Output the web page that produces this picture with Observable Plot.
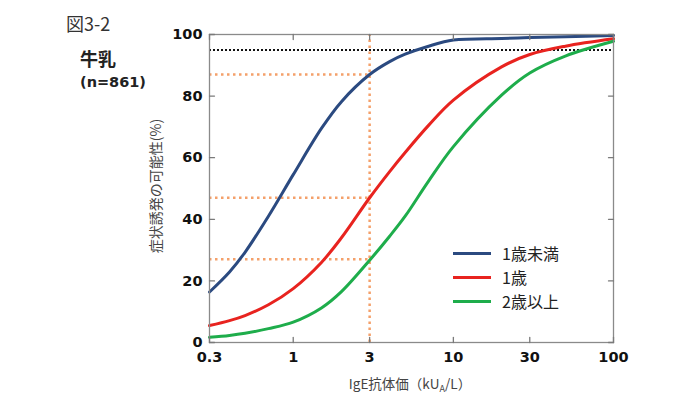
<!DOCTYPE html>
<html><head><meta charset="utf-8">
<script src="https://cdn.jsdelivr.net/npm/d3@7"></script>
<script src="https://cdn.jsdelivr.net/npm/@observablehq/plot@0.6"></script>
<style>
body{margin:0;background:#fff;}
#wrap{position:relative;width:700px;height:400px;font-family:"Noto Sans CJK JP",sans-serif;overflow:hidden;}
#wrap svg{position:absolute;left:0;top:0;}
.abs{position:absolute;white-space:nowrap;line-height:1;}
.leg{position:absolute;left:453px;display:flex;align-items:center;font-size:16px;color:#222;}
.leg span.ln{display:inline-block;width:38px;height:3px;margin-right:11px;}
</style></head><body><div id="wrap"></div>
<script>
const xTicks = [0.3, 1, 3, 10, 30, 100];
const yTicks = [0, 20, 40, 60, 80, 100];
const seriesNames = ["1歳未満", "1歳", "2歳以上"];
const seriesColors = ["#2b4a80", "#e8231f", "#1ead4b"];
const xs = [0.3, 0.4, 0.5, 0.7, 1, 1.5, 2, 3, 4, 5, 7, 10, 20, 30, 50, 100];
const under1 = [16.4, 22.9, 29.3, 41, 54.5, 69.5, 78.2, 87, 91.2, 93.6, 96.2, 98.2, 98.7, 99, 99.3, 99.7];
const age1 = [5.5, 7.1, 8.75, 12.25, 17.5, 26, 34, 47, 55.5, 61.7, 70.5, 78.7, 89.5, 93.5, 96.2, 98.6];
const age2plus = [1.7, 2.3, 3.0, 4.5, 6.6, 11.2, 16.5, 26.7, 34.5, 41, 52.4, 63.6, 80.3, 87.5, 93, 97.8];
const refX = [3];
const refY = [87, 47, 27];
const threshold95 = [95];

const seriesValues = [under1, age1, age2plus];
const data = [];
seriesNames.forEach((s, i) => xs.forEach((x, j) => data.push({x, y: seriesValues[i][j], s})));
const refRows = refY.map(y => ({y, x1: xTicks[0], x2: refX[0]}));

const tickShape = {draw(context, l) { context.moveTo(0, 0); context.lineTo(0, -l); }};
const tickStyle = {length: 5, anchor: "start", shape: tickShape, stroke: "#7a7a7a", strokeWidth: 1.3};

const chart = Plot.plot({
  width: 700, height: 400,
  marginLeft: 209, marginRight: 87, marginTop: 34, marginBottom: 58,
  style: {background: "transparent", fontFamily: "'DejaVu Sans', sans-serif", color: "#111"},
  x: {type: "log", domain: [0.3, 100], label: null},
  y: {domain: [0, 100], label: null},
  color: {domain: seriesNames, range: seriesColors},
  marks: [
    Plot.ruleY(refRows, {y: "y", x1: "x1", x2: "x2", stroke: "#f4a06a", strokeWidth: 2.5, strokeDasharray: "2.5,3.5"}),
    Plot.ruleX(refX, {y1: 0, y2: 100, stroke: "#f4a06a", strokeWidth: 2.5, strokeDasharray: "2.5,3.5"}),
    Plot.ruleY(threshold95, {stroke: "#111", strokeWidth: 2, strokeDasharray: "2,2"}),
    Plot.line(data, {x: "x", y: "y", z: "s", stroke: "s", strokeWidth: 3, curve: "catmull-rom"}),
    Plot.frame({stroke: "#8a8a8a", strokeWidth: 1.3}),
    Plot.vector(xTicks, {x: d => d, frameAnchor: "bottom", rotate: 0, ...tickStyle}),
    Plot.vector(xTicks, {x: d => d, frameAnchor: "top", rotate: 180, ...tickStyle}),
    Plot.vector(yTicks, {y: d => d, frameAnchor: "left", rotate: 90, ...tickStyle}),
    Plot.vector(yTicks, {y: d => d, frameAnchor: "right", rotate: -90, ...tickStyle}),
    Plot.axisX({anchor: "bottom", ticks: xTicks, tickFormat: d => String(d), tickSize: 0, tickPadding: 9, fontSize: 14.5, fontWeight: "bold", label: null}),
    Plot.axisY({anchor: "left", ticks: yTicks, tickSize: 0, tickPadding: 7, fontSize: 14.5, fontWeight: "bold", label: null})
  ]
});
const wrap = document.getElementById("wrap");
wrap.appendChild(chart);

function addDiv(html, css, cls = "abs") {
  const d = document.createElement("div");
  d.className = cls; d.innerHTML = html; d.style.cssText = css; wrap.appendChild(d); return d;
}
addDiv("図3-2", "left:66px;top:14px;font-size:18px;color:#333;");
addDiv("牛乳", "left:80px;top:49px;font-size:18px;font-weight:bold;color:#222;");
addDiv("(n=861)", "left:80px;top:75px;font-size:14.5px;font-weight:bold;color:#222;font-family:'DejaVu Sans',sans-serif;");
addDiv("IgE抗体価（kU<sub style='font-size:9px;vertical-align:-3px'>A</sub>/L）", "left:410px;top:377px;transform:translateX(-50%);font-size:13.5px;color:#444;");
addDiv("症状誘発の可能性(%)", "left:155px;top:186px;transform:translate(-50%,-50%) rotate(-90deg);font-size:14px;color:#444;");
seriesNames.forEach((s, i) => {
  addDiv(`<span class="ln" style="background:${seriesColors[i]}"></span>${s}`, `top:${244 + i * 24}px;height:18px;`, "leg");
});
</script></body></html>
